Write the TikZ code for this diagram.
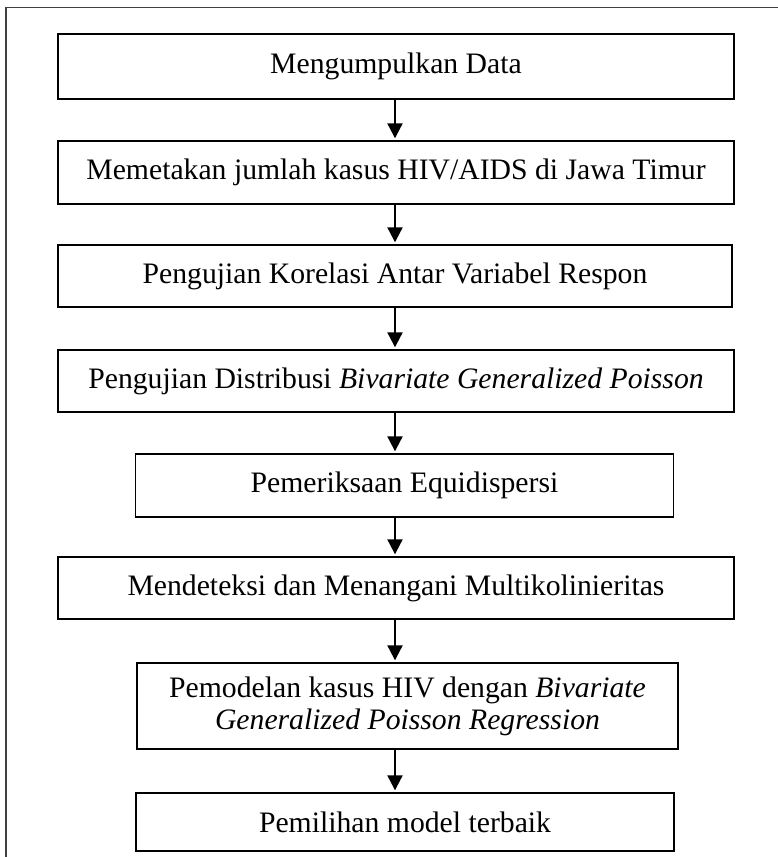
\documentclass[tikz,border=0pt]{standalone}
\usepackage{fontspec}
\setmainfont{Liberation Serif}
\usetikzlibrary{arrows.meta}
\begin{document}
\begin{tikzpicture}[x=1pt,y=-1pt,
  box/.style={draw=black,line width=1.4pt,inner sep=0pt,align=center,
    font=\fontsize{29.7}{32}\selectfont},
  wide/.style={box,minimum width=676pt},
  narrow/.style={box,minimum width=538pt},
  flow/.style={line width=2.2pt,-{Triangle[width=15pt,length=15pt]},shorten >=2pt}]
\useasboundingbox (0,0) rectangle (778,857);
\draw[line width=1.6pt,draw=black!75] (6,857) -- (6,7.5) -- (778,7.5);
\node[wide,minimum height=65pt] (b1) at (396,66.5) {Mengumpulkan Data};
\node[wide,minimum height=63pt] (b2) at (396,172.5) {Memetakan jumlah kasus HIV/AIDS di Jawa Timur};
\node[box,minimum width=674pt,minimum height=62pt] (b3) at (395,276) {Pengujian Korelasi Antar Variabel Respon};
\node[wide,minimum height=62pt] (b4) at (396,381) {Pengujian Distribusi \textit{Bivariate Generalized Poisson}};
\node[narrow,minimum height=63pt] (b5) at (404.5,485.5) {Pemeriksaan Equidispersi};
\node[wide,minimum height=62pt] (b6) at (396,588) {Mendeteksi dan Menangani Multikolinieritas};
\node[box,minimum width=541pt,minimum height=86pt] (b7) at (407.5,706) {Pemodelan kasus HIV dengan \textit{Bivariate}\\\textit{Generalized Poisson Regression}};
\node[narrow,minimum height=58pt] (b8) at (405,822) {Pemilihan model terbaik};
\foreach \a/\b in {b1/b2,b2/b3,b3/b4,b4/b5,b5/b6,b6/b7,b7/b8}
  \draw[flow] (\a.south -| 395,0) -- (\b.north -| 395,0);
\end{tikzpicture}
\end{document}
